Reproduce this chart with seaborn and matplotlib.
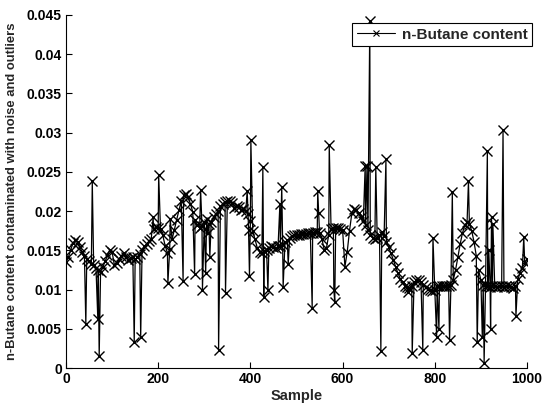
import numpy as np
import pandas as pd
import matplotlib
matplotlib.use("Agg")
import matplotlib.pyplot as plt
import seaborn as sns

# Smooth process baseline, read every 5 samples (0..1000)
baseline_sample = list(range(0, 1001, 5))
baseline_value = [
    0.0135, 0.0141, 0.0150, 0.0159, 0.0163, 0.0161, 0.0154, 0.0148, 0.0143, 0.0139,
    0.0136, 0.0133, 0.0131, 0.0128, 0.0125, 0.0123, 0.0129, 0.0136, 0.0144, 0.0151,
    0.0148, 0.0131, 0.0134, 0.0139, 0.0143, 0.0147, 0.0142, 0.0138, 0.0140, 0.0141,
    0.0139, 0.0141, 0.0145, 0.0150, 0.0155, 0.0158, 0.0162, 0.0165, 0.0177, 0.0180,
    0.0179, 0.0177, 0.0169, 0.0156, 0.0147, 0.0152, 0.0164, 0.0176, 0.0189, 0.0201,
    0.0213, 0.0220, 0.0222, 0.0218, 0.0209, 0.0199, 0.0189, 0.0182, 0.0179, 0.0181,
    0.0186, 0.0190, 0.0184, 0.0186, 0.0192, 0.0196, 0.0200, 0.0206, 0.0209, 0.0212,
    0.0213, 0.0213, 0.0210, 0.0204, 0.0207, 0.0205, 0.0202, 0.0203, 0.0200, 0.0196,
    0.0188, 0.0175, 0.0164, 0.0153, 0.0148, 0.0147, 0.0149, 0.0151, 0.0153, 0.0155,
    0.0154, 0.0153, 0.0155, 0.0155, 0.0157, 0.0160, 0.0163, 0.0166, 0.0168, 0.0169,
    0.0170, 0.0170, 0.0171, 0.0171, 0.0171, 0.0172, 0.0172, 0.0172, 0.0173, 0.0173,
    0.0172, 0.0165, 0.0151, 0.0153, 0.0170, 0.0177, 0.0178, 0.0178, 0.0178, 0.0177,
    0.0176, 0.0129, 0.0148, 0.0175, 0.0197, 0.0203, 0.0201, 0.0197, 0.0193, 0.0188,
    0.0182, 0.0176, 0.0170, 0.0166, 0.0165, 0.0166, 0.0170, 0.0173, 0.0168, 0.0161,
    0.0154, 0.0146, 0.0138, 0.0129, 0.0121, 0.0114, 0.0109, 0.0105, 0.0103, 0.0102,
    0.0104, 0.0109, 0.0112, 0.0112, 0.0110, 0.0106, 0.0103, 0.0101, 0.0099, 0.0098,
    0.0099, 0.0104, 0.0105, 0.0105, 0.0105, 0.0105, 0.0105, 0.0106, 0.0112, 0.0125,
    0.0141, 0.0158, 0.0172, 0.0182, 0.0186, 0.0184, 0.0175, 0.0161, 0.0143, 0.0125,
    0.0112, 0.0106, 0.0104, 0.0104, 0.0103, 0.0104, 0.0104, 0.0103, 0.0104, 0.0104,
    0.0103, 0.0104, 0.0104, 0.0103, 0.0102, 0.0105, 0.0113, 0.0121, 0.0128, 0.0134,
    0.0139,
]

# Outlier samples (index, value)
outlier_sample = [
    43, 57, 69, 72, 148, 162, 189, 201, 221, 226, 254, 279, 292, 296, 303, 307,
    312, 331, 346, 393, 396, 398, 401, 427, 429, 438, 464, 468, 471, 482, 534,
    546, 548, 571, 581, 583, 649, 653, 659, 672, 683, 694, 742, 751, 774, 796,
    804, 809, 832, 838, 873, 892, 903, 907, 914, 917, 921, 923, 926, 948, 976, 993,
]
outlier_value = [
    0.0056, 0.0238, 0.0063, 0.0015, 0.0033, 0.0039, 0.0192, 0.0246, 0.0108, 0.0190,
    0.0111, 0.0120, 0.0227, 0.0100, 0.0121, 0.0172, 0.0142, 0.0023, 0.0096, 0.0226,
    0.0176, 0.0117, 0.0291, 0.0256, 0.0091, 0.0099, 0.0209, 0.0231, 0.0103, 0.0132,
    0.0077, 0.0226, 0.0198, 0.0284, 0.0099, 0.0084, 0.0258, 0.0258, 0.0442, 0.0256,
    0.0022, 0.0266, 0.0097, 0.0019, 0.0023, 0.0166, 0.0040, 0.0050, 0.0036, 0.0224,
    0.0238, 0.0033, 0.0040, 0.0007, 0.0276, 0.0151, 0.0050, 0.0193, 0.0183, 0.0303,
    0.0066, 0.0167,
]

xticks = [0, 200, 400, 600, 800, 1000]
yticks = [0, 0.005, 0.01, 0.015, 0.02, 0.025, 0.03, 0.035, 0.04, 0.045]
ytick_labels = ["0", "0.005", "0.01", "0.015", "0.02", "0.025", "0.03", "0.035", "0.04", "0.045"]

series = dict(zip(baseline_sample, baseline_value))
series.update(dict(zip(outlier_sample, outlier_value)))
df = pd.DataFrame(sorted(series.items()), columns=["Sample", "Value"])

sns.set_style("white")
plt.rcParams["font.family"] = ["Liberation Sans", "DejaVu Sans"]
plt.rcParams["font.weight"] = "bold"

W, H = 543, 403
fig = plt.figure(figsize=(W / 100, H / 100), dpi=100)
ax = fig.add_axes([66 / W, 1 - 368 / H, (527 - 66) / W, (368 - 15) / H])

sns.lineplot(data=df, x="Sample", y="Value", ax=ax, color="black", linewidth=0.9,
             marker="x", markersize=7, markeredgewidth=1.0, markeredgecolor="black",
             label="n-Butane content", sort=True, estimator=None)

ax.set_xlim(0, 1000)
ax.set_ylim(0, 0.045)
ax.set_xticks(xticks)
ax.set_xticklabels([str(t) for t in xticks])
ax.set_yticks(yticks)
ax.set_yticklabels(ytick_labels)
ax.tick_params(direction="in", length=4, width=0.8, labelsize=10, pad=3,
               colors="black", left=True, bottom=True)
for lab in ax.get_xticklabels() + ax.get_yticklabels():
    lab.set_fontweight("bold")
for s in ["top", "right"]:
    ax.spines[s].set_visible(False)
for s in ["left", "bottom"]:
    ax.spines[s].set_color("black")
    ax.spines[s].set_linewidth(0.8)

ax.set_xlabel("Sample", fontsize=10.5, fontweight="bold", labelpad=2)
ax.set_ylabel("n-Butane content contaminated with noise and outliers",
              fontsize=9.4, fontweight="bold", labelpad=6)

leg = ax.legend(loc="upper right", bbox_to_anchor=(532 / W, 1 - 23 / H),
                bbox_transform=fig.transFigure, borderaxespad=0, frameon=True,
                fancybox=False, framealpha=1, edgecolor="black",
                handlelength=2.5, handletextpad=0.45, borderpad=0.3,
                prop={"size": 11, "weight": "bold"})
leg.get_frame().set_linewidth(0.8)
for h in leg.legend_handles:
    h.set_markersize(5)
    h.set_markeredgewidth(0.8)
    h.set_linewidth(0.8)

fig.savefig("out.png", dpi=100)
